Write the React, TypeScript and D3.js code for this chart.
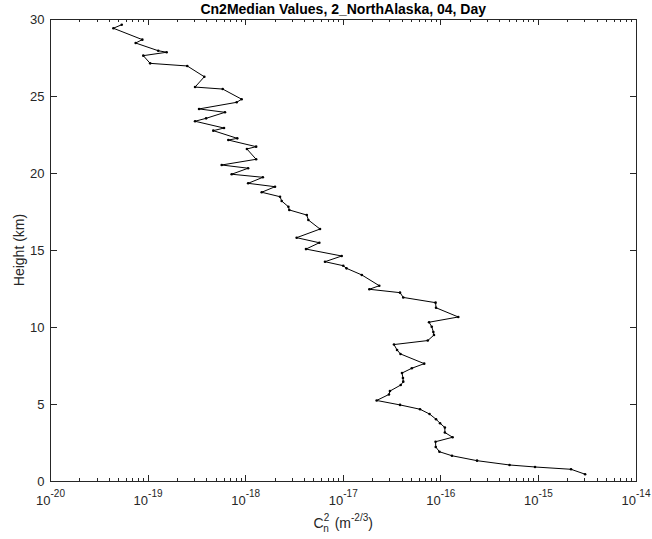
import React from "react";
import * as d3 from "d3";

// Cn2 median profile (height in km, Cn2 in m^-2/3)
const heights: number[] = [
  29.63, 29.4, 28.66, 28.44, 27.94, 27.84, 27.62, 27.12, 26.95, 26.25,
  25.58, 25.45, 24.79, 24.59, 24.16, 23.94, 23.55, 23.36, 22.92, 22.75,
  22.25, 22.14, 21.71, 21.56, 20.89, 20.52, 20.31, 19.92, 19.72, 19.33,
  19.11, 18.75, 18.46, 18.18, 17.81, 17.6, 17.27, 16.95, 16.36, 15.8,
  15.47, 15.06, 14.61, 14.24, 13.98, 13.81, 13.38, 12.68, 12.45, 12.23,
  11.92, 11.58, 11.25, 10.65, 10.31, 10.02, 9.68, 9.48, 9.12, 8.86,
  8.51, 8.25, 7.62, 7.32, 7.01, 6.69, 6.45, 6.23, 5.84, 5.62,
  5.23, 4.94, 4.66, 4.35, 4.01, 3.75, 3.47, 3.15, 2.84, 2.55,
  2.21, 1.9, 1.64, 1.32, 1.04, 0.91, 0.76, 0.44,
];
const cn2Values: number[] = [
  5.37e-20, 4.41e-20, 8.73e-20, 7.46e-20, 1.27e-19, 1.55e-19, 8.93e-20, 1.05e-19, 2.52e-19, 3.77e-19,
  3.03e-19, 5.82e-19, 9.1e-19, 8.09e-19, 3.33e-19, 6.14e-19, 3.93e-19, 3.03e-19, 6.0e-19, 4.66e-19,
  8.2e-19, 6.64e-19, 1.28e-18, 1.03e-18, 1.28e-18, 5.68e-19, 1.06e-18, 7.19e-19, 1.5e-18, 1.06e-18,
  2.0e-18, 1.46e-18, 2.25e-18, 2.34e-18, 2.74e-18, 2.8e-18, 4.23e-18, 4.39e-18, 5.78e-18, 3.33e-18,
  5.69e-18, 4.15e-18, 9.64e-18, 6.5e-18, 1.0e-17, 1.08e-17, 1.55e-17, 2.34e-17, 1.85e-17, 3.82e-17,
  4.12e-17, 8.83e-17, 8.93e-17, 1.51e-16, 7.57e-17, 8.07e-17, 8.38e-17, 8.51e-17, 7.35e-17, 3.31e-17,
  3.56e-17, 3.86e-17, 6.76e-17, 5.04e-17, 4.0e-17, 4.09e-17, 4.12e-17, 3.88e-17, 3.01e-17, 2.94e-17,
  2.2e-17, 3.82e-17, 6.12e-17, 7.66e-17, 8.93e-17, 9.82e-17, 1.1e-16, 1.1e-16, 1.32e-16, 8.83e-17,
  8.87e-17, 9.68e-17, 1.3e-16, 2.35e-16, 5.06e-16, 9.23e-16, 2.16e-15, 3.01e-15,
];

const xTickExponents: number[] = [-20, -19, -18, -17, -16, -15, -14];
const yTicks: number[] = [0, 5, 10, 15, 20, 25, 30];

const titleText = "Cn2Median Values, 2_NorthAlaska, 04, Day";
const yLabelText = "Height (km)";

const W = 652;
const H = 539;
const M = { left: 50.5, right: 636, top: 19, bottom: 481 };
const C = "#262626";
const FONT = "'Liberation Sans', Arial, Helvetica, sans-serif";

export default function App() {
  const x = d3.scaleLog().domain([1e-20, 1e-14]).range([M.left, M.right]);
  const y = d3.scaleLinear().domain([0, 30]).range([M.bottom, M.top]);

  const pts = heights.map((h, i) => ({ h, v: cn2Values[i] }));
  const line = d3
    .line<{ h: number; v: number }>()
    .x((d) => x(d.v))
    .y((d) => y(d.h));

  const minor: number[] = [];
  for (let e = -20; e < -14; e++) {
    for (let k = 2; k <= 9; k++) minor.push(k * Math.pow(10, e));
  }
  const majLen = 6;
  const minLen = 3;

  return (
    <svg
      width={W}
      height={H}
      style={{ position: "absolute", left: 0, top: 0, background: "#fff" }}
      fontFamily={FONT}
    >
      <rect x={0} y={0} width={W} height={H} fill="#fff" />
      {/* ticks */}
      <g stroke={C} strokeWidth={1} shapeRendering="crispEdges">
        {xTickExponents.map((e) => {
          const xx = x(Math.pow(10, e));
          return (
            <g key={"xt" + e}>
              <line x1={xx} x2={xx} y1={M.bottom} y2={M.bottom - majLen} />
              <line x1={xx} x2={xx} y1={M.top} y2={M.top + majLen} />
            </g>
          );
        })}
        {minor.map((v, i) => {
          const xx = x(v);
          return (
            <g key={"mt" + i}>
              <line x1={xx} x2={xx} y1={M.bottom} y2={M.bottom - minLen} />
              <line x1={xx} x2={xx} y1={M.top} y2={M.top + minLen} />
            </g>
          );
        })}
        {yTicks.map((t) => {
          const yy = y(t);
          return (
            <g key={"yt" + t}>
              <line x1={M.left} x2={M.left + majLen} y1={yy} y2={yy} />
              <line x1={M.right} x2={M.right - majLen} y1={yy} y2={yy} />
            </g>
          );
        })}
        <rect
          x={M.left}
          y={M.top}
          width={M.right - M.left}
          height={M.bottom - M.top}
          fill="none"
        />
      </g>
      {/* data */}
      <path d={line(pts) || ""} fill="none" stroke="#000" strokeWidth={1} />
      {pts.map((d, i) => (
        <circle key={"p" + i} cx={x(d.v)} cy={y(d.h)} r={1.3} fill="#000" />
      ))}
      {/* y tick labels */}
      {yTicks.map((t) => (
        <text
          key={"yl" + t}
          x={M.left - 6}
          y={y(t)}
          dy="0.35em"
          textAnchor="end"
          fontSize={13}
          fill={C}
        >
          {t}
        </text>
      ))}
      {/* x tick labels */}
      {xTickExponents.map((e) => (
        <text
          key={"xl" + e}
          x={x(Math.pow(10, e))}
          y={505}
          textAnchor="middle"
          fontSize={13}
          fill={C}
        >
          <tspan>10</tspan>
          <tspan dy={-8} fontSize={10}>
            {String(e)}
          </tspan>
        </text>
      ))}
      {/* title */}
      <text
        x={(M.left + M.right) / 2}
        y={14}
        textAnchor="middle"
        fontSize={14}
        fontWeight="bold"
        fill="#000"
      >
        {titleText}
      </text>
      {/* y label */}
      <text
        transform={`translate(24, ${(M.top + M.bottom) / 2}) rotate(-90)`}
        textAnchor="middle"
        fontSize={14}
        fill={C}
      >
        {yLabelText}
      </text>
      {/* x label */}
      <text x={(M.left + M.right) / 2} y={528} textAnchor="middle" fontSize={14} fill={C}>
        <tspan>C</tspan>
        <tspan dx={0} dy={-7} fontSize={10}>2</tspan>
        <tspan dx={-6} dy={11} fontSize={10}>n</tspan>
        <tspan dx={2} dy={-4}> (m</tspan>
        <tspan dy={-7} fontSize={10}>-2/3</tspan>
        <tspan dy={7}>)</tspan>
      </text>
    </svg>
  );
}
